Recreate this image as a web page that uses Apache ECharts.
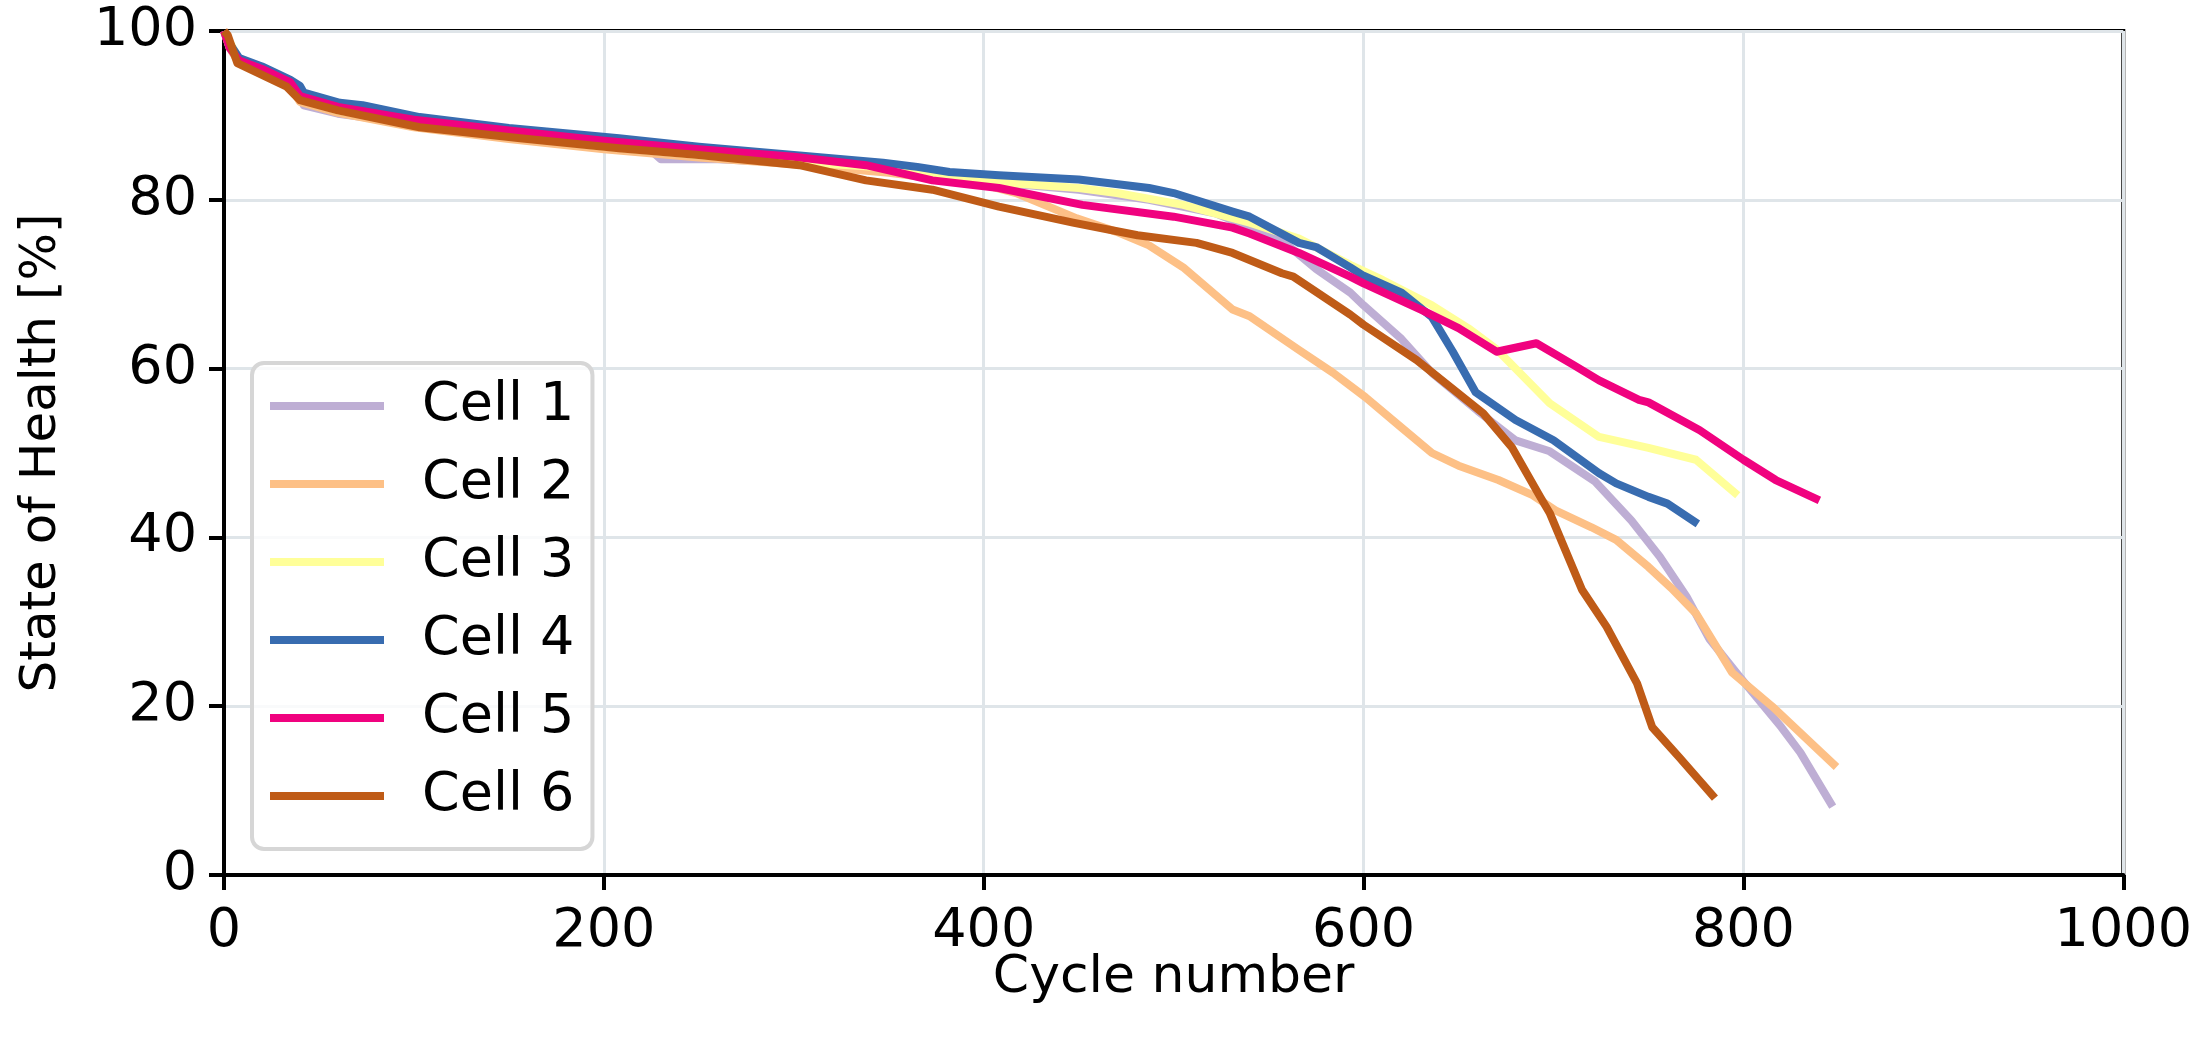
<!DOCTYPE html>
<html>
<head>
<meta charset="utf-8">
<script src="https://cdn.jsdelivr.net/npm/echarts@6/dist/echarts.min.js"></script>
<style>
html,body{margin:0;padding:0;background:#fff;}
#chart{width:2195px;height:1048px;}
</style>
</head>
<body>
<div id="chart"></div>
<script>
// ---- data ----
const seriesNames = ['Cell 1', 'Cell 2', 'Cell 3', 'Cell 4', 'Cell 5', 'Cell 6'];
const colors = ['#beaed4', '#fdc086', '#ffff99', '#386cb0', '#f0027f', '#bf5b17'];

const cell1Cycles = [0, 3, 8, 20, 35, 40, 42, 60, 80, 100, 150, 200, 226, 230, 260, 300, 350, 400, 450, 487, 522, 557, 575, 593, 600, 620, 636, 660, 680, 698, 722, 741, 756, 770, 782, 798, 820, 830, 847];
const cell1Soh    = [100, 98, 96.3, 95.2, 93.6, 92, 91.2, 90.2, 89.6, 88.9, 87.5, 86.2, 85.6, 84.8, 84.8, 84.4, 83.4, 82.2, 81.2, 80, 78.4, 75.2, 71.8, 69, 67.5, 63.5, 59.5, 55, 51.5, 50.2, 46.6, 42, 37.7, 33, 28, 23.5, 17.5, 14.5, 8.1];

const cell2Cycles = [0, 3, 8, 20, 35, 40, 60, 100, 150, 200, 250, 300, 350, 400, 417, 449, 470, 487, 505, 531, 540, 566, 584, 601, 620, 636, 650, 671, 689, 701, 720, 733, 750, 762, 775, 794, 815, 849];
const cell2Soh    = [100, 98, 96.2, 95, 93.4, 91.6, 90.3, 88.6, 87.2, 86, 85, 84.2, 83.2, 81.8, 80.8, 77.8, 76.2, 74.6, 72, 67, 66.2, 62.2, 59.5, 56.6, 53, 50, 48.5, 46.8, 45, 43.2, 41.2, 39.7, 36.5, 34, 31, 24, 20, 12.8];

const cell3Cycles = [0, 8, 20, 35, 40, 60, 100, 150, 200, 250, 300, 350, 400, 450, 470, 505, 540, 566, 593, 610, 636, 655, 670, 698, 724, 750, 775, 797];
const cell3Soh    = [100, 96.6, 95.3, 93.7, 92, 90.6, 89, 87.6, 86.3, 85.3, 84.5, 83.8, 82.2, 81.4, 80.8, 79.4, 77.3, 75.4, 72.3, 70.5, 67.5, 64.8, 62.3, 55.9, 51.9, 50.6, 49.2, 45];

const cell4Cycles = [0, 3, 8, 20, 35, 40, 42, 61, 73, 103, 150, 208, 250, 300, 347, 365, 382, 408, 450, 487, 500, 531, 540, 566, 575, 593, 600, 620, 636, 647, 659, 680, 700, 724, 733, 750, 760, 776];
const cell4Soh    = [100, 98.5, 96.8, 95.8, 94.2, 93.5, 92.7, 91.5, 91.2, 89.8, 88.5, 87.3, 86.3, 85.3, 84.4, 83.9, 83.3, 82.9, 82.4, 81.4, 80.8, 78.6, 78, 74.9, 74.4, 72, 71, 69, 66.1, 62, 57.2, 53.9, 51.5, 47.6, 46.4, 44.8, 44, 41.6];

const cell5Cycles = [0, 3, 8, 20, 35, 40, 60, 100, 150, 200, 250, 300, 338, 373, 408, 452, 500, 531, 540, 566, 593, 600, 631, 650, 670, 691, 710, 724, 745, 750, 777, 800, 817, 840];
const cell5Soh    = [100, 98, 96.5, 95.5, 93.9, 92.3, 91, 89.5, 88.2, 87, 86, 85.1, 84.1, 82.3, 81.4, 79.4, 78, 76.7, 76, 73.7, 70.9, 70.1, 66.9, 64.8, 62, 63, 60.5, 58.6, 56.3, 56, 52.7, 49.2, 46.8, 44.4];

const cell6Cycles = [0, 2, 7, 33, 40, 60, 103, 156, 208, 250, 303, 338, 373, 408, 447, 481, 512, 531, 557, 563, 593, 600, 628, 663, 678, 693, 698, 715, 728, 744, 752, 766, 785];
const cell6Soh    = [100, 99.5, 96.2, 93.4, 91.8, 90.6, 88.6, 87.3, 86.1, 85.3, 84.1, 82.3, 81.2, 79.2, 77.3, 75.8, 74.9, 73.7, 71.3, 70.9, 66.4, 65.2, 61, 54.7, 50.7, 44.8, 42.9, 33.8, 29.4, 22.7, 17.5, 14, 9.1];

const xTicks = [0, 200, 400, 600, 800, 1000];
const yTicks = [0, 20, 40, 60, 80, 100];

const allCycles = [cell1Cycles, cell2Cycles, cell3Cycles, cell4Cycles, cell5Cycles, cell6Cycles];
const allSoh = [cell1Soh, cell2Soh, cell3Soh, cell4Soh, cell5Soh, cell6Soh];

// ---- chart ----
const FONT = 'DejaVu Sans';
const chart = echarts.init(document.getElementById('chart'), null, {renderer: 'canvas'});

const series = seriesNames.map((name, i) => ({
  name: name,
  type: 'line',
  data: allCycles[i].map((c, k) => [c, allSoh[i][k]]),
  showSymbol: false,
  symbol: 'none',
  lineStyle: {color: colors[i], width: 8, join: 'round', cap: 'butt'},
  itemStyle: {color: colors[i]},
  emphasis: {disabled: true},
  z: 3 + i
}));

chart.setOption({
  animation: false,
  backgroundColor: '#ffffff',
  textStyle: {fontFamily: FONT},
  grid: {
    left: 224, right: 71, top: 31, bottom: 173,
    show: true, borderColor: '#000', borderWidth: 4, backgroundColor: 'transparent'
  },
  legend: {
    orient: 'vertical',
    left: 252, top: 363,
    padding: [16, 18, 26, 18],
    itemWidth: 114, itemHeight: 8, itemGap: 24,
    icon: 'rect',
    backgroundColor: 'rgba(255,255,255,0.8)',
    borderColor: '#d6d6d6', borderWidth: 4, borderRadius: 12,
    textStyle: {fontFamily: FONT, fontSize: 54, color: '#000', padding: [0, 0, 0, 33]},
    data: seriesNames
  },
  xAxis: {
    type: 'value', min: xTicks[0], max: xTicks[xTicks.length - 1], interval: 200,
    name: 'Cycle number', nameLocation: 'middle', nameGap: 77, nameMoveOverlap: false,
    nameTextStyle: {fontFamily: FONT, fontSize: 52, color: '#000'},
    axisLine: {show: true, onZero: false, lineStyle: {color: '#000', width: 4}},
    axisTick: {show: true, length: 15, inside: false, lineStyle: {color: '#000', width: 4}},
    axisLabel: {fontFamily: FONT, fontSize: 54, color: '#000', margin: 30, formatter: v => String(v)},
    splitLine: {show: true, lineStyle: {color: '#dfe5e9', width: 3}}
  },
  yAxis: {
    type: 'value', min: yTicks[0], max: yTicks[yTicks.length - 1], interval: 20,
    name: 'State of Health [%]', nameLocation: 'middle', nameGap: 157, nameRotate: 90, nameMoveOverlap: false,
    nameTextStyle: {fontFamily: FONT, fontSize: 50, color: '#000'},
    axisLine: {show: true, onZero: false, lineStyle: {color: '#000', width: 4}},
    axisTick: {show: true, length: 15, inside: false, lineStyle: {color: '#000', width: 4}},
    axisLabel: {fontFamily: FONT, fontSize: 54, color: '#000', margin: 27, formatter: v => String(v)},
    splitLine: {show: true, lineStyle: {color: '#dfe5e9', width: 3}}
  },
  series: series
});
</script>
</body>
</html>
